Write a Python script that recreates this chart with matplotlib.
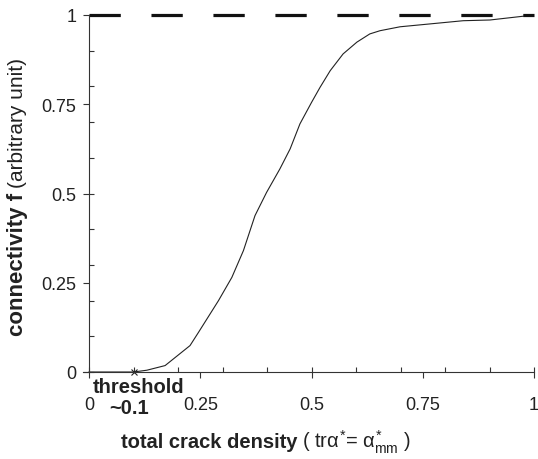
import matplotlib
matplotlib.use("Agg")
import matplotlib.pyplot as plt
from matplotlib.ticker import FixedLocator

plt.rcParams['font.family'] = ['Liberation Sans', 'DejaVu Sans']
plt.rcParams['mathtext.fontset'] = 'custom'
plt.rcParams['mathtext.rm'] = 'Liberation Sans'
plt.rcParams['mathtext.it'] = 'Liberation Sans'
plt.rcParams['mathtext.bf'] = 'Liberation Sans:bold'

# connectivity curve
density = [0.0, 0.10, 0.13, 0.171, 0.227, 0.246, 0.291, 0.321, 0.347, 0.373,
           0.399, 0.429, 0.452, 0.474, 0.50, 0.519, 0.542, 0.571, 0.602,
           0.631, 0.654, 0.699, 0.766, 0.841, 0.901, 1.0]
connectivity = [0.0, 0.0, 0.005, 0.018, 0.074, 0.111, 0.20, 0.265, 0.34, 0.438,
                0.503, 0.569, 0.625, 0.695, 0.755, 0.797, 0.844, 0.891, 0.924,
                0.947, 0.956, 0.967, 0.975, 0.984, 0.986, 1.0]
threshold = 0.1
major_ticks = [0, 0.25, 0.5, 0.75, 1]
major_labels = ["0", "0.25", "0.5", "0.75", "1"]
minor_ticks = [0.1 * i for i in range(11)]

W, H = 538, 460
fig = plt.figure(figsize=(W / 100, H / 100), dpi=100)
x0, x1 = 83, 534
y0, y1 = 373, 16
ax = fig.add_axes([x0 / W, 1 - y0 / H, (x1 - x0) / W, (y0 - y1) / H])
ax.set_xlim(-0.0135, 1.0)
ax.set_ylim(0, 1)

ink = "#222222"
ax.plot(density, connectivity, color=ink, lw=0.8)
ax.plot([threshold], [0], marker="x", ms=5, mew=0.8, color=ink, ls="none", clip_on=False)
ax.plot([0, 1], [1, 1], color="#111111", lw=2.3, ls=(0, (9.8, 9.6)), clip_on=False,
        solid_capstyle="butt", dash_capstyle="butt")

for s in ["top", "right"]:
    ax.spines[s].set_visible(False)
for s in ["left", "bottom"]:
    ax.spines[s].set_color("#333333")
    ax.spines[s].set_linewidth(0.8)
ax.spines["left"].set_position(("data", 0))

for axis in (ax.xaxis, ax.yaxis):
    axis.remove_overlapping_locs = False
    axis.set_major_locator(FixedLocator(major_ticks))
    axis.set_minor_locator(FixedLocator(minor_ticks))
ax.set_xticklabels(major_labels)
ax.set_yticklabels(major_labels)

ax.tick_params(which="major", direction="out", length=4, width=0.8, color="#333333",
               labelsize=13, labelcolor=ink)
ax.tick_params(which="minor", direction="in", length=3.5, width=0.8, color="#333333")
ax.tick_params(axis="x", which="major", pad=13)
ax.tick_params(axis="y", which="major", pad=5)

# threshold annotation
fig.text(139 / W, 1 - 393 / H, "threshold", ha="center", va="baseline",
         fontsize=14.5, fontweight="bold", color=ink)
fig.text(129 / W, 1 - 414 / H, "~0.1", ha="center", va="baseline",
         fontsize=14.5, fontweight="bold", color=ink)

# x label: bold part + formula
fig.text(121 / W, 1 - 448 / H, "total crack density", ha="left", va="baseline",
         fontsize=14.5, fontweight="bold", color=ink)
fig.text(302 / W, 1 - 448 / H, r"( tr$\alpha^{*}$= $\alpha^{*}_{\mathrm{mm}}$ )",
         ha="left", va="baseline", fontsize=14.5, color=ink)

# y label: bold part + unit
fig.text(23 / W, 1 - 336 / H, "connectivity f", rotation=90, rotation_mode="anchor",
         ha="left", va="baseline", fontsize=16, fontweight="bold", color=ink)
fig.text(23 / W, 1 - 188 / H, "(arbitrary unit)", rotation=90, rotation_mode="anchor",
         ha="left", va="baseline", fontsize=15, color=ink)

fig.savefig("out.png", dpi=100)
